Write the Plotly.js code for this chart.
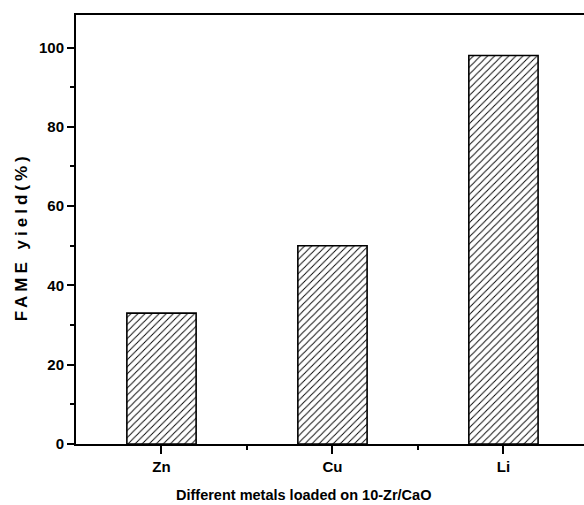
<!DOCTYPE html>
<html>
<head>
<meta charset="utf-8">
<script src="https://cdn.plot.ly/plotly-3.0.1.min.js"></script>
<style>
html,body{margin:0;padding:0;background:#fff;overflow:hidden;}
#chart{width:584px;height:505px;}
</style>
</head>
<body>
<div id="chart"></div>
<script>
const categories = ['Zn', 'Cu', 'Li'];
const fameYield = [33, 50, 98];
const yTickVals = [0, 20, 40, 60, 80, 100];
const xTitle = 'Different metals loaded on 10-Zr/CaO';
const yTitle = 'FAME yield(%)';

const xIdx = categories.map((c, i) => i);
const FAMILY = 'Liberation Sans, Arial, sans-serif';

const trace = {
  type: 'bar',
  x: xIdx,
  y: fameYield,
  width: 0.405,
  marker: {
    color: 'white',
    line: {color: '#000', width: 1.6},
    pattern: {shape: '/', fgcolor: '#000', bgcolor: '#fff', size: 5, solidity: 0.18}
  },
  hoverinfo: 'skip'
};

const layout = {
  width: 584, height: 505,
  margin: {l: 76, r: 0, t: 15, b: 61, pad: 0},
  paper_bgcolor: '#fff', plot_bgcolor: '#fff',
  showlegend: false,
  font: {family: FAMILY, size: 14, weight: 'bold', color: '#000'},
  xaxis: {
    type: 'linear',
    range: [-0.5, 2.471],
    tickvals: xIdx,
    ticktext: categories,
    showgrid: false, zeroline: false,
    showline: true, linecolor: '#000', linewidth: 2, mirror: true,
    ticks: 'outside', ticklen: 8, tickwidth: 2, tickcolor: '#000',
    minor: {tickvals: [0.5, 1.5, 2.5], ticks: 'outside', ticklen: 4, tickwidth: 2, tickcolor: '#000', showgrid: false},
    tickfont: {family: FAMILY, size: 15, weight: 'bold', color: '#000'},
    fixedrange: true
  },
  yaxis: {
    range: [0, 108.2],
    tickvals: yTickVals,
    ticktext: yTickVals.map(String),
    showgrid: false, zeroline: false,
    showline: true, linecolor: '#000', linewidth: 2, mirror: false,
    ticks: 'outside', ticklen: 7, tickwidth: 2, tickcolor: '#000',
    minor: {tickvals: [10, 30, 50, 70, 90], ticks: 'outside', ticklen: 4, tickwidth: 2, tickcolor: '#000', showgrid: false},
    tickfont: {family: FAMILY, size: 15, weight: 'bold', color: '#000'},
    fixedrange: true
  },
  annotations: [
    {text: xTitle, xref: 'paper', yref: 'paper', x: 0.447, y: -0.119,
     xanchor: 'center', yanchor: 'middle', showarrow: false,
     font: {family: FAMILY, size: 14.5, weight: 'bold', color: '#000'}},
    {text: yTitle, xref: 'paper', yref: 'paper', x: -0.108, y: 0.482,
     xanchor: 'center', yanchor: 'middle', textangle: -90, showarrow: false,
     font: {family: FAMILY, size: 17, weight: 'bold', color: '#000'}}
  ]
};

Plotly.newPlot('chart', [trace], layout, {staticPlot: true, displayModeBar: false}).then(function () {
  const texts = document.querySelectorAll('.annotation-text');
  texts.forEach(function (t) {
    if (t.textContent === yTitle) {
      t.style.letterSpacing = '4px';
    }
  });
});
</script>
</body>
</html>
